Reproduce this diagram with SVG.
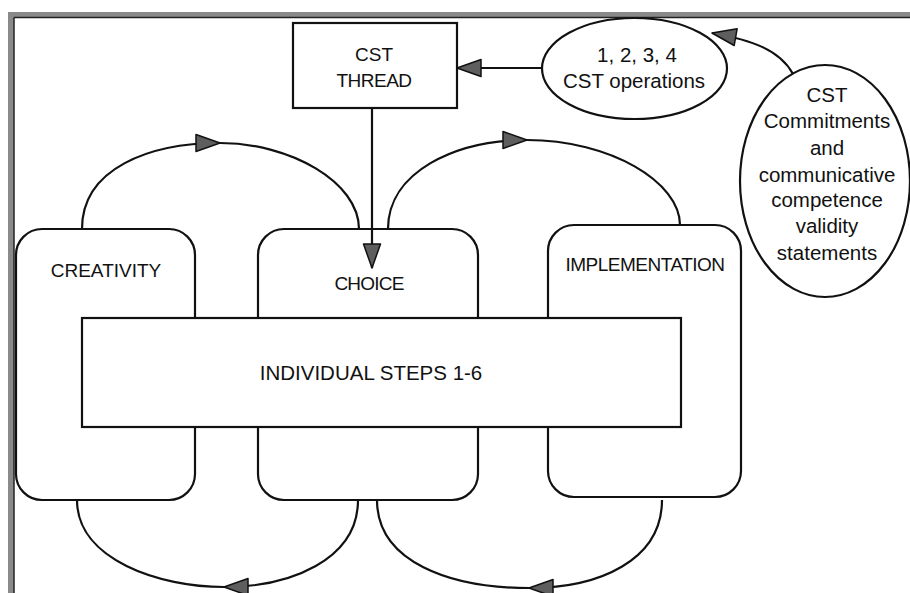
<svg xmlns="http://www.w3.org/2000/svg" width="910" height="593" viewBox="0 0 910 593">
  <style>
    .shape { fill: #fff; stroke: #111; stroke-width: 2.2; }
    .wire { fill: none; stroke: #111; stroke-width: 2.2; }
    .lbl { font-family: "Liberation Sans", Arial, sans-serif; font-size: 19px; fill: #111; text-anchor: middle; }
    .lbl2 { font-family: "Liberation Sans", Arial, sans-serif; font-size: 20.5px; fill: #111; text-anchor: middle; }
    .frame { stroke: #8a8a8a; stroke-width: 6; fill: none; }
    .frame-in { stroke: #222; stroke-width: 1.5; fill: none; }
  </style>
  <defs>
    <marker id="tri" viewBox="-26 -10 28 20" refX="0" refY="0" markerWidth="28" markerHeight="20" markerUnits="userSpaceOnUse" orient="auto">
      <path d="M0,0 L-24,-8.5 L-24,8.5 Z" fill="#5e5e5e" stroke="#111" stroke-width="1.5" stroke-linejoin="round"/>
    </marker>
  </defs>
  <rect width="910" height="593" fill="#fff"/>

  <!-- outer frame (top and left edges) -->
  <g id="frame">
    <line class="frame" x1="8" y1="15" x2="910" y2="15"/>
    <line class="frame" x1="11" y1="12" x2="11" y2="593"/>
    <line class="frame-in" x1="14" y1="17.5" x2="910" y2="17.5"/>
    <line class="frame-in" x1="14" y1="17.5" x2="14" y2="593"/>
  </g>

  <g id="creativity">
    <rect class="shape" x="16" y="229" width="179" height="271" rx="26"/>
    <text class="lbl" x="106" y="277">CREATIVITY</text>
  </g>
  <g id="choice">
    <rect class="shape" x="258" y="229" width="220" height="271" rx="26"/>
    <text class="lbl" x="369" y="290" letter-spacing="-0.8">CHOICE</text>
  </g>
  <g id="implementation">
    <rect class="shape" x="548" y="225" width="193" height="272" rx="26"/>
    <text class="lbl" x="645" y="271" letter-spacing="-0.5">IMPLEMENTATION</text>
  </g>
  <g id="steps">
    <rect class="shape" x="82" y="318" width="599" height="109"/>
    <text class="lbl2" x="371" y="380">INDIVIDUAL STEPS 1-6</text>
  </g>
  <g id="cst-thread">
    <rect class="shape" x="293" y="23" width="164" height="85"/>
    <text class="lbl" x="374" y="61">CST</text>
    <text class="lbl" x="374" y="87" letter-spacing="-0.5">THREAD</text>
  </g>
  <g id="cst-operations">
    <ellipse class="shape" cx="634.5" cy="68.5" rx="92.5" ry="50.5"/>
    <text class="lbl2" x="637" y="62">1, 2, 3, 4</text>
    <text class="lbl2" x="634" y="88">CST operations</text>
  </g>
  <g id="cst-commitments">
    <ellipse class="shape" cx="825" cy="181" rx="85" ry="116"/>
    <text class="lbl2" x="827" y="102">CST</text>
    <text class="lbl2" x="827" y="128">Commitments</text>
    <text class="lbl2" x="827" y="155">and</text>
    <text class="lbl2" x="827" y="182">communicative</text>
    <text class="lbl2" x="827" y="207">competence</text>
    <text class="lbl2" x="827" y="233">validity</text>
    <text class="lbl2" x="827" y="260">statements</text>
  </g>

  <g id="connectors">
    <!-- cycle arcs between the phases -->
    <path class="wire" marker-mid="url(#tri)" d="M82,229 C82,168 150,143 220,143 C290,143 359,182 359,229"/>
    <path class="wire" marker-mid="url(#tri)" d="M388,229 C388,172 455,140 527,140 C610,140 680,182 680,225"/>
    <path class="wire" marker-mid="url(#tri)" d="M358,500 C358,560 290,587 224,587 C160,587 77,560 77,500"/>
    <path class="wire" marker-mid="url(#tri)" d="M662,500 C662,560 600,588 529,588 C450,588 377,562 377,500"/>
    <!-- CST inputs -->
    <path class="wire" marker-end="url(#tri)" d="M542,68 L457,68"/>
    <path class="wire" marker-end="url(#tri)" d="M793,74 C780,50 752,40 712,33"/>
    <path class="wire" marker-end="url(#tri)" d="M372,108 L372,268"/>
  </g>
</svg>
